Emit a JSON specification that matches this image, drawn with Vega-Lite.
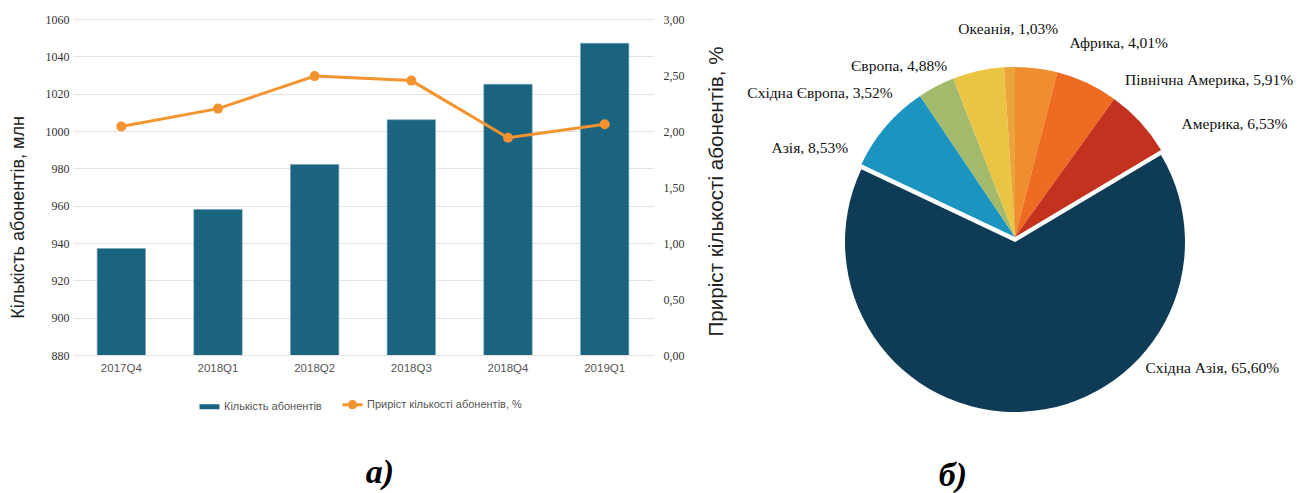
{
  "$schema": "https://vega.github.io/schema/vega-lite/v6.json",
  "background": "white",
  "padding": {"left": 9, "top": 13, "right": 2, "bottom": 0},
  "bounds": "flush",
  "spacing": 122,
  "config": {"view": {"stroke": null}, "font": "Liberation Sans"},
  "resolve": {"scale": {"color": "independent"}, "legend": {"color": "independent"}},
  "hconcat": [
    {
      "width": 580,
      "height": 336,
      "title": {"text": "а)", "orient": "bottom", "font": "Liberation Serif", "fontSize": 34, "fontStyle": "italic", "fontWeight": "bold", "color": "#000", "offset": 42, "dx": 17},
      "data": {"values": [
        {"quarter": "2017Q4", "subscribers": 937, "growth": 2.04},
        {"quarter": "2018Q1", "subscribers": 958, "growth": 2.20},
        {"quarter": "2018Q2", "subscribers": 982, "growth": 2.49},
        {"quarter": "2018Q3", "subscribers": 1006, "growth": 2.45},
        {"quarter": "2018Q4", "subscribers": 1025, "growth": 1.94},
        {"quarter": "2019Q1", "subscribers": 1047, "growth": 2.06}
      ]},
      "layer": [
        {
          "mark": {"type": "bar", "clip": true, "stroke": "#6f9fb3", "strokeWidth": 0.6},
          "encoding": {
            "x": {"field": "quarter", "type": "ordinal", "sort": null, "scale": {"paddingInner": 0.5, "paddingOuter": 0.25},
                  "axis": {"title": null, "labelAngle": 0, "ticks": false, "domain": false, "labelFont": "Liberation Sans", "labelFontSize": 11.5, "labelColor": "#555", "labelPadding": 7}},
            "y": {"field": "subscribers", "type": "quantitative", "scale": {"domain": [880, 1060], "zero": false, "nice": false},
                  "axis": {"title": "Кількість абонентів, млн", "titleFont": "Liberation Sans", "titleFontSize": 18, "titleFontWeight": "normal", "titleColor": "#222", "titlePadding": 18, "titleY": 198,
                           "values": [880, 900, 920, 940, 960, 980, 1000, 1020, 1040, 1060], "format": "d", "labelFont": "Liberation Serif", "labelFontSize": 12, "labelColor": "#333", "labelPadding": 4,
                           "ticks": false, "domain": false, "grid": true, "gridColor": "#e3e3e3", "gridWidth": 1}},
            "color": {"datum": "Кількість абонентів", "type": "nominal",
                      "scale": {"domain": ["Кількість абонентів", "Приріст кількості абонентів, %"], "range": ["#1a6480", "#f39430"]},
                      "legend": {"orient": "none", "legendX": 131, "legendY": 380, "direction": "horizontal", "title": null,
                                 "labelFont": "Liberation Sans", "labelFontSize": 11, "labelColor": "#555", "labelOffset": 9, "columnPadding": 14, "symbolSize": 400,
                                 "symbolType": {"expr": "datum.value === 'Кількість абонентів' ? 'M-1,-0.25H1V0.25H-1Z' : 'M-1,0H1M0.32,0A0.32,0.32 0 1 1 -0.32,0A0.32,0.32 0 1 1 0.32,0Z'"},
                                 "symbolStrokeWidth": {"expr": "datum.value === 'Кількість абонентів' ? 0 : 3"},
                                 "symbolFillColor": {"expr": "scale('color', datum.value)"},
                                 "symbolStrokeColor": {"expr": "scale('color', datum.value)"}}}
          }
        },
        {
          "mark": {"type": "line", "strokeWidth": 3, "point": {"filled": true, "size": 100, "opacity": 1}},
          "encoding": {
            "x": {"field": "quarter", "type": "ordinal", "sort": null},
            "y": {"field": "growth", "type": "quantitative", "scale": {"domain": [0, 3], "nice": false},
                  "axis": {"orient": "right", "title": "Приріст кількості абонентів, %", "titleAngle": 270, "titleFont": "Liberation Sans", "titleFontSize": 20.6, "titleFontWeight": "normal", "titleColor": "#222", "titlePadding": 42, "titleY": 172,
                           "values": [0, 0.5, 1, 1.5, 2, 2.5, 3], "labelExpr": "replace(format(datum.value, '.2f'), '.', ',')",
                           "labelFont": "Liberation Serif", "labelFontSize": 12, "labelColor": "#333", "labelPadding": 10,
                           "ticks": false, "domain": false, "grid": false}},
            "color": {"datum": "Приріст кількості абонентів, %", "type": "nominal"}
          }
        }
      ],
      "resolve": {"scale": {"y": "independent"}}
    },
    {
      "width": 480,
      "height": 436,
      "title": {"text": "б)", "orient": "bottom", "font": "Liberation Serif", "fontSize": 34, "fontStyle": "italic", "fontWeight": "bold", "color": "#000", "offset": 4, "dx": -62},
      "data": {"values": [
        {"region": "Африка", "share": 4.01, "ord": 1, "label": "Африка, 4,01%"},
        {"region": "Північна Америка", "share": 5.91, "ord": 2, "label": "Північна Америка, 5,91%"},
        {"region": "Америка", "share": 6.53, "ord": 3, "label": "Америка, 6,53%"},
        {"region": "Східна Азія", "share": 65.60, "ord": 4, "label": "Східна Азія, 65,60%"},
        {"region": "Азія", "share": 8.53, "ord": 5, "label": "Азія, 8,53%"},
        {"region": "Східна Європа", "share": 3.52, "ord": 6, "label": "Східна Європа, 3,52%"},
        {"region": "Європа", "share": 4.88, "ord": 7, "label": "Європа, 4,88%"},
        {"region": "Океанія", "share": 1.03, "ord": 8, "label": "Океанія, 1,03%"}
      ]},
      "encoding": {
        "theta": {"field": "share", "type": "quantitative", "stack": true},
        "order": {"field": "ord", "type": "quantitative"}
      },
      "layer": [
        {
          "mark": {"type": "arc", "outerRadius": 170},
          "encoding": {
            "color": {"field": "region", "type": "nominal", "legend": null,
                      "scale": {"domain": ["Африка", "Північна Америка", "Америка", "Східна Азія", "Азія", "Східна Європа", "Європа", "Океанія"],
                                "range": ["#f08d2e", "#ef6b21", "#c3321f", "#0e3b55", "#1b95c0", "#a3b96b", "#eac543", "#eba43a"]}},
            "opacity": {"condition": {"test": "datum.region === 'Східна Азія'", "value": 0}, "value": 1}
          }
        },
        {
          "mark": {"type": "arc", "outerRadius": 170, "yOffset": 5},
          "encoding": {
            "color": {"field": "region", "type": "nominal", "legend": null},
            "opacity": {"condition": {"test": "datum.region === 'Східна Азія'", "value": 1}, "value": 0}
          }
        },
        {
          "mark": {"type": "text", "radius": 201, "thetaOffset": 0.148, "align": "left", "baseline": "middle", "font": "Liberation Serif", "fontSize": 15.5, "color": "#111"},
          "encoding": {
            "text": {"field": "label"},
            "opacity": {"condition": {"test": "indexof(['Африка', 'Америка'], datum.region) >= 0", "value": 1}, "value": 0}
          }
        },
        {
          "mark": {"type": "text", "radius": 192, "thetaOffset": 0.173, "align": "left", "baseline": "middle", "font": "Liberation Serif", "fontSize": 15.5, "color": "#111"},
          "encoding": {
            "text": {"field": "label"},
            "opacity": {"condition": {"test": "datum.region === 'Північна Америка'", "value": 1}, "value": 0}
          }
        },
        {
          "mark": {"type": "text", "radius": 189, "thetaOffset": -0.222, "align": "right", "baseline": "middle", "font": "Liberation Serif", "fontSize": 15.5, "color": "#111"},
          "encoding": {
            "text": {"field": "label"},
            "opacity": {"condition": {"test": "indexof(['Азія', 'Східна Європа'], datum.region) >= 0", "value": 1}, "value": 0}
          }
        },
        {
          "mark": {"type": "text", "radius": 184, "thetaOffset": -0.16, "align": "right", "baseline": "middle", "font": "Liberation Serif", "fontSize": 15.5, "color": "#111"},
          "encoding": {
            "text": {"field": "label"},
            "opacity": {"condition": {"test": "datum.region === 'Європа'", "value": 1}, "value": 0}
          }
        },
        {
          "mark": {"type": "text", "radius": 208, "align": "center", "baseline": "middle", "font": "Liberation Serif", "fontSize": 15.5, "color": "#111"},
          "encoding": {
            "text": {"field": "label"},
            "opacity": {"condition": {"test": "datum.region === 'Океанія'", "value": 1}, "value": 0}
          }
        },
        {
          "mark": {"type": "text", "radius": 185, "thetaOffset": -0.735, "align": "left", "baseline": "middle", "font": "Liberation Serif", "fontSize": 15.5, "color": "#111"},
          "encoding": {
            "text": {"field": "label"},
            "opacity": {"condition": {"test": "datum.region === 'Східна Азія'", "value": 1}, "value": 0}
          }
        }
      ]
    }
  ]
}
